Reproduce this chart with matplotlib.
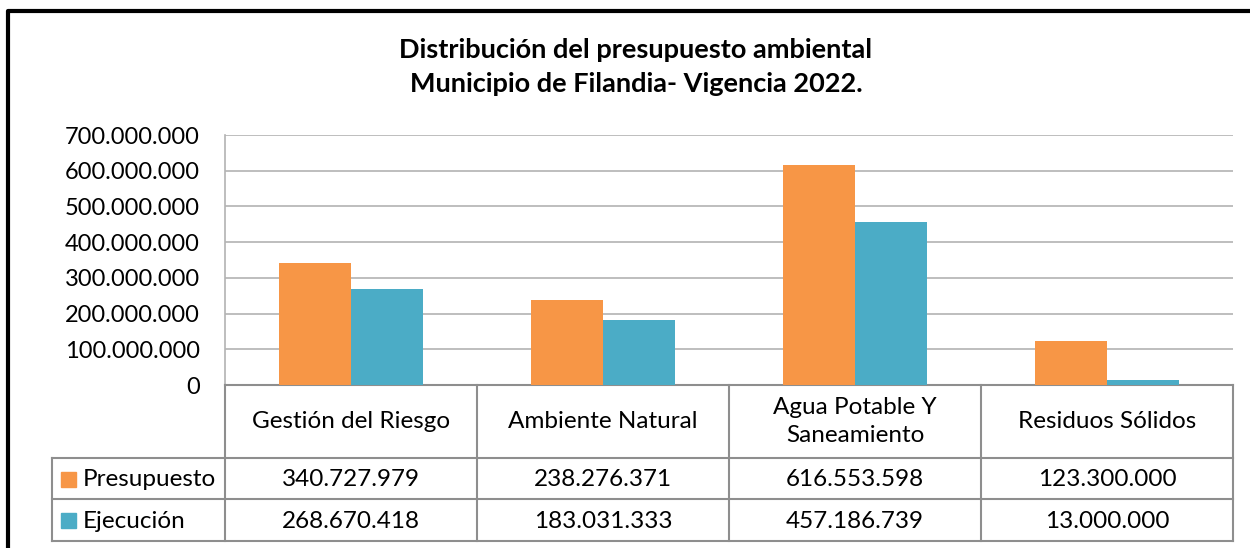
import matplotlib.pyplot as plt
from matplotlib.lines import Line2D
from matplotlib.patches import Rectangle
from matplotlib.ticker import FuncFormatter
import numpy as np

plt.rcParams["font.family"] = ["Lato", "DejaVu Sans"]

# ── Data ──────────────────────────────────────────────────────────────────────
categories = ["Gestión del Riesgo", "Ambiente Natural",
              "Agua Potable Y\nSaneamiento", "Residuos Sólidos"]
series_names = ["Presupuesto", "Ejecución"]
presupuesto = [340727979, 238276371, 616553598, 123300000]
ejecucion = [268670418, 183031333, 457186739, 13000000]
y_ticks = [0, 100e6, 200e6, 300e6, 400e6, 500e6, 600e6, 700e6]

title = "Distribución del presupuesto ambiental\nMunicipio de Filandia- Vigencia 2022."

ORANGE = "#F79646"
TEAL = "#4BACC6"
GRID = "#B3B3B3"
TABLE = "#8E8E8E"

W, H = 1250, 548


def dots(v, _pos=None):
    return f"{int(round(v)):,}".replace(",", ".")


fig = plt.figure(figsize=(W / 100, H / 100), dpi=100)

# plot area in pixel coordinates
x0, x1 = 225, 1233
y_top, y_base = 135, 385
ax = fig.add_axes([x0 / W, 1 - y_base / H, (x1 - x0) / W, (y_base - y_top) / H])

x = np.arange(len(categories))
bw = 72 / 252
ax.bar(x - bw / 2, presupuesto, bw, color=ORANGE, zorder=3)
ax.bar(x + bw / 2, ejecucion, bw, color=TEAL, zorder=3)
ax.set_xlim(-0.5, len(categories) - 0.5)
ax.set_ylim(0, 700e6)
ax.set_yticks(y_ticks)
ax.yaxis.set_major_formatter(FuncFormatter(dots))
ax.tick_params(axis="y", length=0, pad=18, labelsize=17, labelcolor="#000000")
ax.set_xticks([])
ax.grid(axis="y", color=GRID, linewidth=1.2, zorder=0)
for s in ("top", "right"):
    ax.spines[s].set_visible(False)
ax.spines["left"].set_color(GRID)
ax.spines["left"].set_linewidth(1.2)
ax.spines["bottom"].set_color(TABLE)
ax.spines["bottom"].set_linewidth(1.5)

# overlay in pixel coordinates for table, title and frame
ov = fig.add_axes([0, 0, 1, 1], zorder=5)
ov.set_xlim(0, W)
ov.set_ylim(H, 0)
ov.axis("off")
ov.patch.set_alpha(0)

# frame
ov.add_line(Line2D([7.5, 7.5, W], [H, 10.5, 10.5], color="black", linewidth=3))

ov.text(636, 67, title, ha="center", va="center", fontsize=19.5,
        fontweight="bold", linespacing=1.55)

# data table
col_edges = [x0 + i * (x1 - x0) / len(categories) for i in range(len(categories) + 1)]
hdr_bot, row_mid, tbl_bot, leg_left = 458, 499, 541, 52
lw = 1.5
for cx in col_edges:
    ov.add_line(Line2D([cx, cx], [y_base, tbl_bot], color=TABLE, linewidth=lw))
ov.add_line(Line2D([leg_left, leg_left], [hdr_bot, tbl_bot], color=TABLE, linewidth=lw))
for ry in (hdr_bot, row_mid, tbl_bot):
    ov.add_line(Line2D([leg_left, x1], [ry, ry], color=TABLE, linewidth=lw))

fs = 17.5
for i, cat in enumerate(categories):
    cx = (col_edges[i] + col_edges[i + 1]) / 2
    ov.text(cx, (y_base + hdr_bot) / 2, cat, ha="center", va="center",
            fontsize=fs, linespacing=1.45)
    ov.text(cx, (hdr_bot + row_mid) / 2 + 1, dots(presupuesto[i]),
            ha="center", va="center", fontsize=fs)
    ov.text(cx, (row_mid + tbl_bot) / 2 + 1, dots(ejecucion[i]),
            ha="center", va="center", fontsize=fs)

for (name, col), (ra, rb) in zip(zip(series_names, [ORANGE, TEAL]),
                                 [(hdr_bot, row_mid), (row_mid, tbl_bot)]):
    cy = (ra + rb) / 2 + 1
    ov.add_patch(Rectangle((61, cy - 8), 15, 15, color=col))
    ov.text(83, cy, name, ha="left", va="center", fontsize=fs)

fig.savefig("out.png", dpi=100, facecolor="white")
